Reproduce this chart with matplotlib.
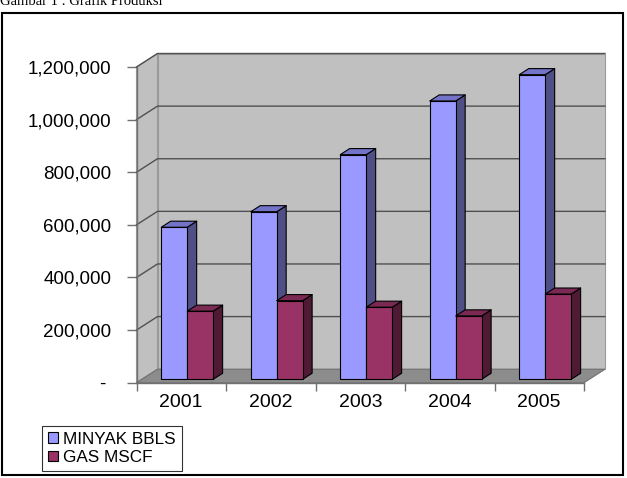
import matplotlib
matplotlib.use("Agg")
import matplotlib.pyplot as plt
import matplotlib.transforms as mtransforms
from matplotlib.patches import Polygon, Rectangle, Patch

# data
years = ["2001", "2002", "2003", "2004", "2005"]
minyak = [578000, 637000, 854000, 1058000, 1158000]
gas = [259000, 299000, 274000, 241000, 324000]
y_ticks = [0, 200000, 400000, 600000, 800000, 1000000, 1200000]
y_labels = ["-", "200,000", "400,000", "600,000", "800,000", "1,000,000", "1,200,000"]
series_names = ["MINYAK BBLS", "GAS MSCF"]

W, H = 627, 478
fig = plt.figure(figsize=(W / 100, H / 100), dpi=100)
fig.patch.set_facecolor("white")

# front plane of the 3d box, in pixels
fx0, fx1, fy_top, fy_bot = 136.5, 584, 67, 382.7
ax = fig.add_axes([fx0 / W, 1 - fy_bot / H, (fx1 - fx0) / W, (fy_bot - fy_top) / H])
ymax = 1200000
n = len(years)
ax.set_xlim(0, n)
ax.set_ylim(0, ymax)
ax.patch.set_visible(False)

# depth offset (pixels) -> data units
ddx_px, ddy_px = 21, 13.5
px_x = (fx1 - fx0) / n
px_y = (fy_bot - fy_top) / ymax
DX, DY = ddx_px / px_x, ddy_px / px_y


def P(x, y, d):
    return (x + d * DX, y + d * DY)


wall = "#c0c0c0"
floor = "#8c8c8c"
kw = dict(clip_on=False, linewidth=0.8, edgecolor="#9a9a9a")
# back wall, left wall, floor
ax.add_patch(Polygon([P(0, 0, 1), P(n, 0, 1), P(n, ymax, 1), P(0, ymax, 1)], facecolor=wall, zorder=1, **kw))
ax.add_patch(Polygon([P(0, 0, 0), P(0, 0, 1), P(0, ymax, 1), P(0, ymax, 0)], facecolor=wall, zorder=1, **kw))
for v in y_ticks[1:]:
    a, b, c = P(0, v, 0), P(0, v, 1), P(n, v, 1)
    ax.plot([a[0], b[0], c[0]], [a[1], b[1], c[1]], color="#505050", lw=1, clip_on=False, zorder=2)
ax.add_patch(Polygon([P(0, 0, 0), P(n, 0, 0), P(n, 0, 1), P(0, 0, 1)], facecolor=floor, zorder=3,
                     clip_on=False, linewidth=0.8, edgecolor="#707070"))

# bars
off, bw = 0.218, 0.29
d0, d1 = 0.25, 0.7
styles = [("#9999ff", "#7373c8", "#4f4f86"), ("#993366", "#7a2952", "#4f1a33")]
for i in range(n):
    for s, vals in enumerate([minyak, gas]):
        v = vals[i]
        x0 = i + off + s * bw
        x1 = x0 + bw
        front, top, side = styles[s]
        pk = dict(edgecolor="black", linewidth=0.8, clip_on=False, zorder=4, joinstyle="round")
        ax.add_patch(Polygon([P(x1, 0, d0), P(x1, v, d0), P(x1, v, d1), P(x1, 0, d1)], facecolor=side, **pk))
        ax.add_patch(Polygon([P(x0, v, d0), P(x1, v, d0), P(x1, v, d1), P(x0, v, d1)], facecolor=top, **pk))
        ax.add_patch(Polygon([P(x0, 0, d0), P(x1, 0, d0), P(x1, v, d0), P(x0, v, d0)], facecolor=front, **pk))

# axes
for sp in ("top", "right"):
    ax.spines[sp].set_visible(False)
for sp in ("left", "bottom"):
    ax.spines[sp].set_color("#707070")
    ax.spines[sp].set_linewidth(1)
    ax.spines[sp].set_zorder(5)

font = "Liberation Sans"
ax.set_yticks(y_ticks)
ax.set_yticklabels(y_labels, fontsize=13.5, family=font)
ax.tick_params(axis="y", length=7, width=1, color="#707070", pad=11)
lab0 = ax.get_yticklabels()[0]
lab0.set_transform(lab0.get_transform() + mtransforms.ScaledTranslation(-6 / 100, 0, fig.dpi_scale_trans))

ax.set_xticks(range(n + 1))
ax.set_xticklabels([])
ax.set_xticks([i + 0.5 for i in range(n)], minor=True)
ax.set_xticklabels(years, minor=True, fontsize=14, family=font)
ax.tick_params(axis="x", which="major", length=6, width=1, color="#707070")
ax.tick_params(axis="x", which="minor", length=0, pad=8)

# legend
handles = [Patch(facecolor=styles[0][0], edgecolor="black", linewidth=0.8),
           Patch(facecolor=styles[1][0], edgecolor="black", linewidth=0.8)]
leg = fig.legend(handles, series_names, loc="lower left",
                 bbox_to_anchor=(42 / W, 1 - 471 / H), borderaxespad=0,
                 prop={"family": font, "size": 12.3}, handlelength=0.6, handleheight=0.6,
                 handletextpad=0.3, labelspacing=0.2, borderpad=0.35, fancybox=False,
                 frameon=True)
leg.get_frame().set_edgecolor("black")
leg.get_frame().set_linewidth(0.8)

# outer chart border and caption (caption is cut at the top edge, as in the source)
fig.add_artist(Rectangle((2 / W, 3 / H), 621 / W, 462 / H, transform=fig.transFigure,
                         fill=False, edgecolor="black", linewidth=1.5))
fig.text(0, 1 - 5 / H, "Gambar 1 : Grafik Produksi", family="Liberation Serif", fontsize=10.5,
         ha="left", va="baseline")

fig.savefig("out.png", dpi=100)
